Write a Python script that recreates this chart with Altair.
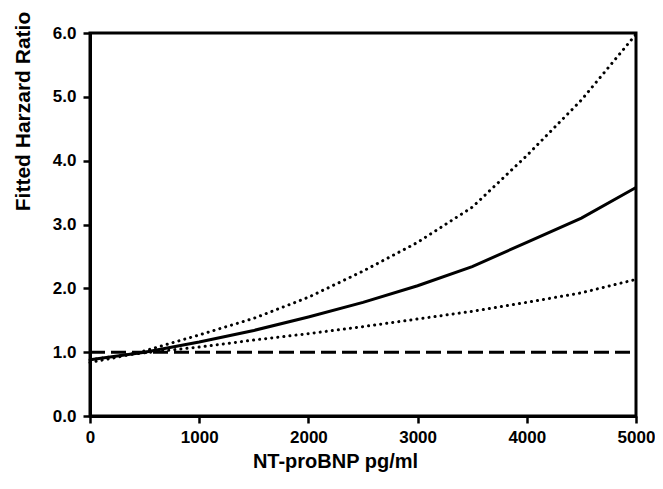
import altair as alt
import pandas as pd

x_vals = [0, 250, 500, 1000, 1500, 2000, 2500, 3000, 3500, 4000, 4500, 5000]
fitted = [0.88, 0.94, 1.00, 1.16, 1.34, 1.55, 1.78, 2.04, 2.34, 2.72, 3.10, 3.58]
upper = [0.84, 0.92, 1.02, 1.27, 1.53, 1.86, 2.27, 2.72, 3.27, 4.08, 4.95, 5.98]
lower = [0.88, 0.94, 0.99, 1.08, 1.19, 1.29, 1.40, 1.52, 1.64, 1.78, 1.93, 2.14]
ref_x = [0, 5000]
ref_y = [1.0, 1.0]

df = pd.DataFrame({"x": x_vals, "fitted": fitted, "upper": upper, "lower": lower})
ref = pd.DataFrame({"x": ref_x, "y": ref_y})

xs = alt.Scale(domain=[0, 5000], nice=False)
ys = alt.Scale(domain=[0, 6], nice=False)

xax = alt.Axis(values=[0, 1000, 2000, 3000, 4000, 5000], format="d", title="NT-proBNP pg/ml",
               labelFontSize=17, titleFontSize=20, labelPadding=6, titlePadding=6,
               labelFlush=False, labelOverlap=False,
               titleX=245, titleAlign="center")
yax = alt.Axis(values=[0, 1, 2, 3, 4, 5, 6], format=".1f", title="Fitted Harzard Ratio",
               labelFontSize=17, titleFontSize=21, labelPadding=7,
               labelFlush=False, labelOverlap=False,
               titleAngle=270, titleX=-67, titleY=78, titleAlign="center", titleBaseline="middle")

base = alt.Chart(df)

solid = base.mark_line(color="black", strokeWidth=3).encode(
    x=alt.X("x:Q", scale=xs, axis=xax),
    y=alt.Y("fitted:Q", scale=ys, axis=yax),
)
up = base.mark_line(color="black", strokeWidth=3, strokeDash=[0.1, 6], strokeCap="round").encode(
    x=alt.X("x:Q", scale=xs), y=alt.Y("upper:Q", scale=ys)
)
lo = base.mark_line(color="black", strokeWidth=3, strokeDash=[0.1, 6], strokeCap="round").encode(
    x=alt.X("x:Q", scale=xs), y=alt.Y("lower:Q", scale=ys)
)
rule = alt.Chart(ref).mark_line(color="black", strokeWidth=3, strokeDash=[15, 6]).encode(
    x=alt.X("x:Q", scale=xs), y=alt.Y("y:Q", scale=ys)
)

chart = alt.layer(rule, lo, up, solid).properties(
    width=546, height=383,
    autosize=alt.AutoSizeParams(type="none"),
    padding={"left": 82, "top": 25, "right": 19, "bottom": 65},
).configure_view(
    stroke="black", strokeWidth=3
).configure_axis(
    grid=False, domainColor="black", domainWidth=3, tickColor="black", tickWidth=2.5,
    tickSize=7, labelColor="black", titleColor="black",
    labelFont="Liberation Sans", titleFont="Liberation Sans",
    labelFontWeight="bold", titleFontWeight="bold",
)

chart.save("out.html", embed_options={"renderer": "svg", "actions": False})
